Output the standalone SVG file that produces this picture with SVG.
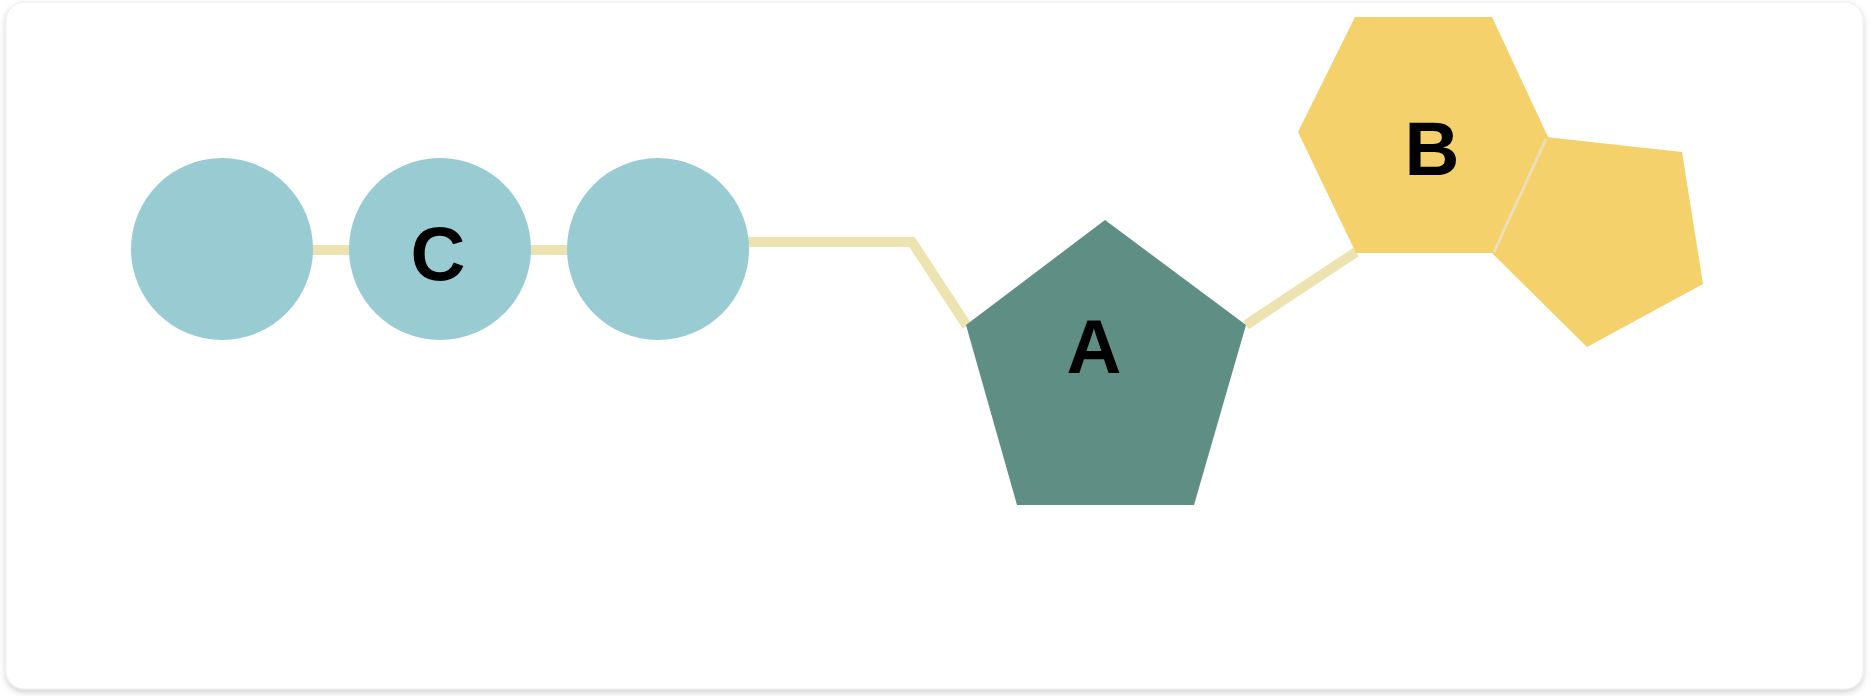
<svg xmlns="http://www.w3.org/2000/svg" width="1870" height="696" viewBox="0 0 1870 696">
  <defs>
    <filter id="shadow" x="-5%" y="-5%" width="110%" height="115%">
      <feDropShadow dx="0" dy="3" stdDeviation="3" flood-color="#000" flood-opacity="0.18"/>
    </filter>
    <style>
      .link { fill: none; stroke: #EDE3B0; stroke-width: 10; stroke-linejoin: miter; }
      .circ { fill: #99CBD2; }
      .yel { fill: #F4D16B; }
      .lbl { font-family: "Liberation Sans", Arial, sans-serif; font-weight: bold; font-size: 76px; fill: #000; text-anchor: middle; }
    </style>
  </defs>
  <rect x="0" y="0" width="1870" height="696" fill="#ffffff"/>
  <rect x="6" y="2" width="1857" height="687" rx="18" ry="18" fill="#ffffff" stroke="#ececec" stroke-width="1" filter="url(#shadow)"/>
  <g id="connectors">
    <line class="link" x1="222" y1="250" x2="658" y2="250"/>
    <polyline class="link" points="700,242 912,242 967,326"/>
    <line class="link" x1="1246" y1="325" x2="1356" y2="252" stroke-width="7"/>
  </g>
  <g id="node-c1"><circle class="circ" cx="222" cy="249" r="91"/></g>
  <g id="node-c">
    <circle class="circ" cx="440" cy="249" r="91"/>
    <text class="lbl" x="438" y="280">C</text>
  </g>
  <g id="node-c3"><circle class="circ" cx="658" cy="249" r="91"/></g>
  <g id="node-a">
    <polygon points="1105,220 1246,325 1194,505 1017,505 966,325" fill="#5F8E84"/>
    <text class="lbl" x="1094" y="373">A</text>
  </g>
  <g id="node-b">
    <polygon class="yel" points="1355,17 1492,17 1548,137 1493,253 1356,253 1298,132"/>
    <text class="lbl" x="1432" y="175">B</text>
  </g>
  <g id="node-b2">
    <polygon class="yel" points="1546,137 1682,152 1703,284 1587,347 1492,253"/>
    <line x1="1546" y1="139" x2="1494" y2="252" stroke="#ECDDB4" stroke-width="3"/>
  </g>
</svg>
